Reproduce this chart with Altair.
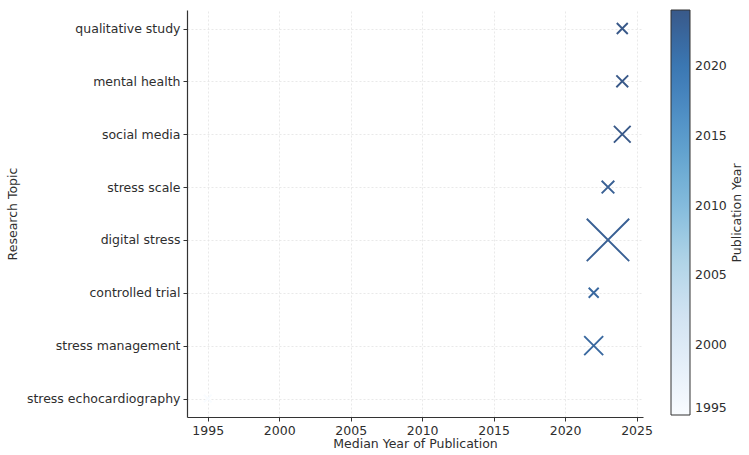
import altair as alt
import pandas as pd

topics = ["qualitative study", "mental health", "social media", "stress scale",
          "digital stress", "controlled trial", "stress management",
          "stress echocardiography"]
median_year = [2024, 2024, 2024, 2023, 2023, 2022, 2022, 1995]
pub_year = [2024, 2024, 2024, 2023, 2023, 2022, 2022, 1995]
paper_count = [6, 7, 14, 8, 90, 5, 18, 3]
x_ticks = [1995, 2000, 2005, 2010, 2015, 2020, 2025]
cbar_ticks = [1995, 2000, 2005, 2010, 2015, 2020]

df = pd.DataFrame({
    "topic": topics,
    "median_year": median_year,
    "pub_year": pub_year,
    "count": paper_count,
})

FONT = "DejaVu Sans"
TXT = "#2e2e2e"
blues_a = ["#f9fcff", "#e5eff9", "#d1e2f2", "#b1d5e7", "#89bede",
           "#68a8d1", "#4d8dc4", "#3974b0", "#395989"]

points = alt.Chart(df).mark_point(
    shape="M-1,-1L1,1M-1,1L1,-1", filled=False, strokeWidth=1.9, opacity=1
).encode(
    x=alt.X("median_year:Q",
            scale=alt.Scale(domain=[1993.55, 2025.45], nice=False, zero=False),
            axis=alt.Axis(title="Median Year of Publication", values=x_ticks,
                          format="d", titlePadding=1, grid=True)),
    y=alt.Y("topic:N", sort=topics,
            scale=alt.Scale(type="point", padding=0.35),
            axis=alt.Axis(title="Research Topic", titlePadding=7, grid=True)),
    color=alt.Color("pub_year:Q",
                    scale=alt.Scale(domain=[1995, 2024], range=blues_a,
                                    interpolate="rgb"),
                    legend=alt.Legend(orient="none", legendX=484, legendY=0,
                                      direction="vertical", title=None,
                                      gradientLength=405, gradientThickness=19,
                                      gradientStrokeColor="#333333",
                                      gradientStrokeWidth=1,
                                      values=cbar_ticks, format="d",
                                      labelFontSize=12.5, labelOffset=5,
                                      labelBaseline="middle", labelColor=TXT,
                                      labelFont=FONT, padding=0)),
    size=alt.Size("count:Q", scale=alt.Scale(domain=[0, 100], range=[0, 2000]),
                  legend=None),
)

cbar_title = alt.Chart(pd.DataFrame({"t": ["Publication Year"]})).mark_text(
    angle=270, align="center", baseline="middle", fontSize=12.5,
    font=FONT, color=TXT
).encode(x=alt.value(550), y=alt.value(203), text="t:N")

chart = alt.layer(points, cbar_title).properties(
    width=456, height=407,
    padding={"left": 187, "top": 10, "right": 106, "bottom": 38},
    autosize=alt.AutoSizeParams(type="none"),
).configure_view(strokeWidth=0).configure_axis(
    labelFont=FONT, titleFont=FONT, labelFontSize=12.5, titleFontSize=12.5,
    labelColor=TXT, titleColor=TXT, titleFontWeight="normal",
    domainColor="#333333", domainWidth=1.2, tickColor="#333333", tickSize=4,
    labelPadding=3, gridColor="#e3e3e3", gridDash=[2, 2], gridWidth=0.8,
)

chart.save("out.html", embed_options={"renderer": "svg", "actions": False})
